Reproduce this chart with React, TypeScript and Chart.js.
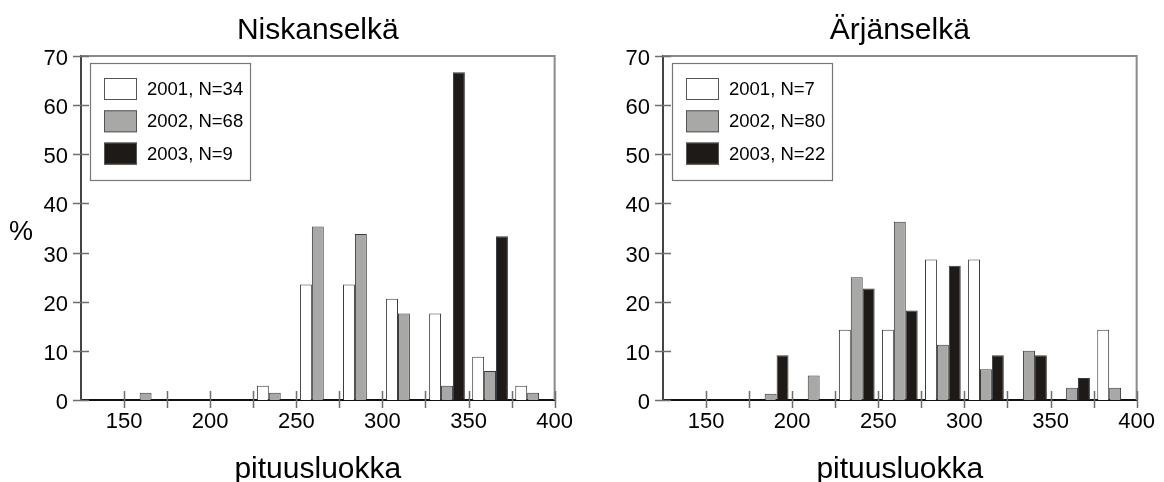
import React, { useEffect, useRef } from 'react';
import { Chart, registerables } from 'chart.js';

Chart.register(...registerables);
Chart.defaults.font.family = '"Liberation Sans", Arial, Helvetica, sans-serif';

// length classes (class centres, 25 mm wide classes from 125 to 400)
const classCenters = [137.5, 162.5, 187.5, 212.5, 237.5, 262.5, 287.5, 312.5, 337.5, 362.5, 387.5];

const yearColors = ['#ffffff', '#a8a8a6', '#1e1a17'];

// Niskanselkä
const niskaTitle = 'Niskanselkä';
const niskaLabels = ['2001, N=34', '2002, N=68', '2003, N=9'];
const niska2001 = [0, 0, 0, 0, 2.9, 23.5, 23.5, 20.6, 17.6, 8.8, 2.9];
const niska2002 = [0, 1.5, 0, 0, 1.5, 35.3, 33.8, 17.6, 2.9, 5.9, 1.5];
const niska2003 = [0, 0, 0, 0, 0, 0, 0, 0, 66.7, 33.3, 0];

// Ärjänselkä
const arjaTitle = 'Ärjänselkä';
const arjaLabels = ['2001, N=7', '2002, N=80', '2003, N=22'];
const arja2001 = [0, 0, 0, 0, 14.3, 14.3, 28.6, 28.6, 0, 0, 14.3];
const arja2002 = [0, 0, 1.25, 5, 25, 36.25, 11.25, 6.25, 10, 2.5, 2.5];
const arja2003 = [0, 0, 9.1, 0, 22.7, 18.2, 27.3, 9.1, 9.1, 4.5, 0];

const xAxisTitle = 'pituusluokka';
const yAxisTitle = '%';

const decorPlugin = {
  id: 'decor',
  afterDraw(chart: any, _args: any, opts: any) {
    const { ctx, chartArea: a, scales } = chart;
    const xs = scales.x;
    const ys = scales.y;
    ctx.save();
    // top and right frame
    ctx.strokeStyle = '#8a8a8a';
    ctx.lineWidth = 2;
    ctx.beginPath();
    ctx.moveTo(a.left, a.top);
    ctx.lineTo(a.right, a.top);
    ctx.lineTo(a.right, a.bottom);
    ctx.stroke();
    // crossing tick marks
    ctx.strokeStyle = '#6e6e6e';
    ctx.lineWidth = 1.5;
    ctx.beginPath();
    ys.ticks.forEach((_t: any, i: number) => {
      const p = Math.round(ys.getPixelForTick(i)) + 0.5;
      ctx.moveTo(a.left - 8, p);
      ctx.lineTo(a.left + 8, p);
    });
    xs.ticks.forEach((t: any, i: number) => {
      if (t.value <= xs.min) return;
      const p = Math.round(xs.getPixelForTick(i)) + 0.5;
      ctx.moveTo(p, a.bottom - 9);
      ctx.lineTo(p, a.bottom + 8);
    });
    ctx.stroke();

    // legend box
    const lx = a.left + 9;
    const ly = a.top + 7;
    ctx.fillStyle = '#ffffff';
    ctx.fillRect(lx, ly, 160, 117);
    ctx.strokeStyle = '#777777';
    ctx.lineWidth = 1.2;
    ctx.strokeRect(lx + 0.5, ly + 0.5, 160, 117);
    chart.data.datasets.forEach((ds: any, i: number) => {
      const sy = a.top + 22 + i * 32.3;
      ctx.fillStyle = ds.backgroundColor;
      ctx.fillRect(a.left + 23, sy, 33, 22);
      ctx.strokeStyle = '#555555';
      ctx.lineWidth = 1;
      ctx.strokeRect(a.left + 23.5, sy + 0.5, 32, 21);
      ctx.fillStyle = '#000000';
      ctx.font = '18.5px "Liberation Sans", Arial, sans-serif';
      ctx.textAlign = 'left';
      ctx.textBaseline = 'middle';
      ctx.fillText(ds.label, a.left + 66, sy + 12);
    });

    if (opts && opts.percent) {
      ctx.fillStyle = '#000000';
      ctx.font = '27px "Liberation Sans", Arial, sans-serif';
      ctx.textAlign = 'center';
      ctx.textBaseline = 'middle';
      ctx.fillText(yAxisTitle, 21, 233);
    }
    ctx.restore();
  },
};

type PanelProps = {
  title: string;
  labels: string[];
  series: number[][];
  showPercent: boolean;
  rightPad: number;
};

function Panel({ title, labels, series, showPercent, rightPad }: PanelProps) {
  const ref = useRef<HTMLCanvasElement | null>(null);
  useEffect(() => {
    if (!ref.current) return;
    const chart = new Chart(ref.current, {
      type: 'bar',
      data: {
        datasets: series.map((vals, si) => ({
          label: labels[si],
          data: classCenters.map((c, i) => ({ x: c, y: vals[i] })),
          backgroundColor: yearColors[si],
          borderColor: '#3a3a3a',
          borderWidth: 1,
          categoryPercentage: 0.83,
          barPercentage: 1,
        })),
      },
      options: {
        animation: false,
        responsive: true,
        maintainAspectRatio: false,
        layout: { padding: { left: 0, right: rightPad, top: 0, bottom: 0 } },
        plugins: {
          legend: { display: false },
          tooltip: { enabled: false },
          title: {
            display: true,
            text: title,
            fullSize: false,
            color: '#000',
            font: { size: 30, weight: 'normal' },
            padding: { top: 13, bottom: 7 },
          },
          decor: { percent: showPercent },
        } as any,
        scales: {
          x: {
            type: 'linear',
            min: 125,
            max: 400,
            offset: false,
            grid: { display: false, drawTicks: false },
            border: { display: true, color: '#111', width: 2 },
            ticks: {
              stepSize: 25,
              autoSkip: false,
              maxRotation: 0,
              padding: 9,
              color: '#000',
              font: { size: 22 },
              callback: (v: any) => (Number(v) % 50 === 0 ? String(v) : ''),
            },
            title: {
              display: true,
              text: xAxisTitle,
              color: '#000',
              font: { size: 30 },
              padding: { top: 0, bottom: -6 },
            },
            afterFit: (s: any) => {
              s.height = 82;
            },
          },
          y: {
            min: 0,
            max: 70,
            grid: { display: false, drawTicks: false },
            border: { display: true, color: '#444', width: 2 },
            ticks: { stepSize: 10, padding: 13, labelOffset: 3, color: '#000', font: { size: 22 } },
            afterFit: (s: any) => {
              s.width = 81;
            },
          },
        },
      } as any,
      plugins: [decorPlugin],
    });
    return () => chart.destroy();
  }, []);
  return (
    <div style={{ position: 'relative', width: 582, height: 482 }}>
      <canvas ref={ref} />
    </div>
  );
}

export default function App() {
  return (
    <div
      style={{
        position: 'fixed',
        left: 0,
        top: 0,
        width: 1164,
        height: 482,
        display: 'flex',
        background: '#fff',
        overflow: 'hidden',
      }}
    >
      <Panel title={niskaTitle} labels={niskaLabels} series={[niska2001, niska2002, niska2003]} showPercent={true} rightPad={22} />
      <Panel title={arjaTitle} labels={arjaLabels} series={[arja2001, arja2002, arja2003]} showPercent={false} rightPad={21} />
    </div>
  );
}
